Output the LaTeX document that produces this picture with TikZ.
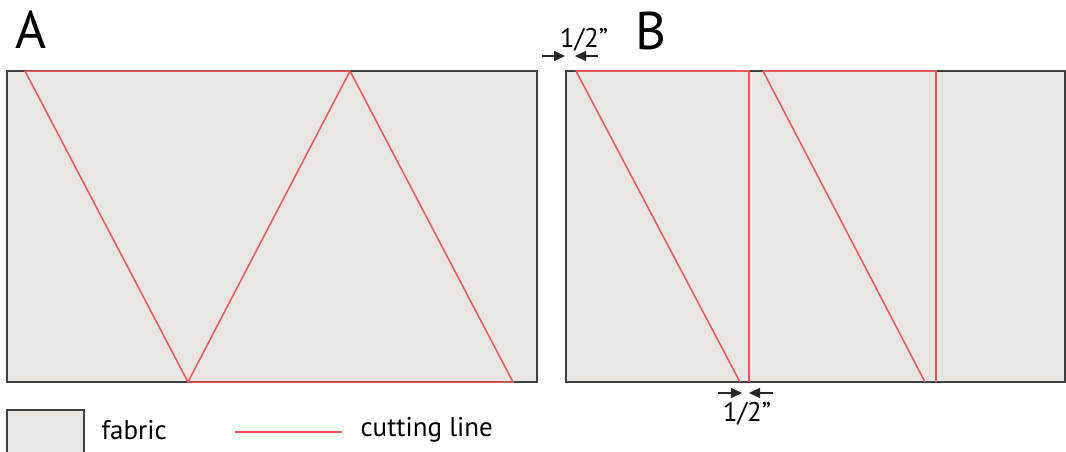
\documentclass[tikz,border=0pt]{standalone}
\usepackage{fontspec}
\setmainfont{PT Sans}
\usetikzlibrary{arrows.meta}
\definecolor{fabricgray}{RGB}{232,229,227}
\definecolor{cutred}{RGB}{230,88,88}
\begin{document}
\begin{tikzpicture}[x=1pt,y=-1pt,>={Triangle[length=11pt,width=10pt]},
  fabric/.style={fill=fabricgray,draw=black!75,line width=1.4pt},
  cut/.style={cutred,line width=1.5pt},
  dim/.style={->,line width=1.1pt,black!85},
  panel/.style={font=\fontsize{53}{53}\selectfont},
  note/.style={font=\fontsize{27}{27}\selectfont}]
  \useasboundingbox (0,0) rectangle (1066,451);
  \node[panel] (labA) at (31,30) {A};
  \node[panel] (labB) at (651,31) {B};
  \draw[fabric] (7,71) rectangle (537,382);
  \draw[fabric] (566,71) rectangle (1065,382);
  \draw[cut] (25,71) -- (350,71) -- (513,382) -- (188,382) -- cycle;
  \draw[cut] (188,382) -- (350,71);
  \draw[cut] (576,71) -- (749,71) -- (749,382);
  \draw[cut] (576,71) -- (740,382);
  \draw[cut] (763,71) -- (936,71) -- (936,382);
  \draw[cut] (763,71) -- (925,382);
  \node[note] (topgap) at (584,40) {1/2''};
  \coordinate (t1) at (542,56);
  \coordinate (t2) at (565,56);
  \coordinate (t3) at (598,56);
  \coordinate (t4) at (575,56);
  \draw[dim] (t1) -- (t2);
  \draw[dim] (t3) -- (t4);
  \node[note] (botgap) at (747,414) {1/2''};
  \coordinate (b1) at (718,393);
  \coordinate (b2) at (742,393);
  \coordinate (b3) at (773,393);
  \coordinate (b4) at (749,393);
  \draw[dim] (b1) -- (b2);
  \draw[dim] (b3) -- (b4);
  \draw[fabric] (7,410) rectangle (84,460);
  \node[note,anchor=west] (fabtxt) at (98,430) {fabric};
  \coordinate (l1) at (235,432);
  \coordinate (l2) at (342,432);
  \draw[cut] (l1) -- (l2);
  \node[note,anchor=west] (cuttxt) at (357,430) {cutting line};
\end{tikzpicture}
\end{document}
